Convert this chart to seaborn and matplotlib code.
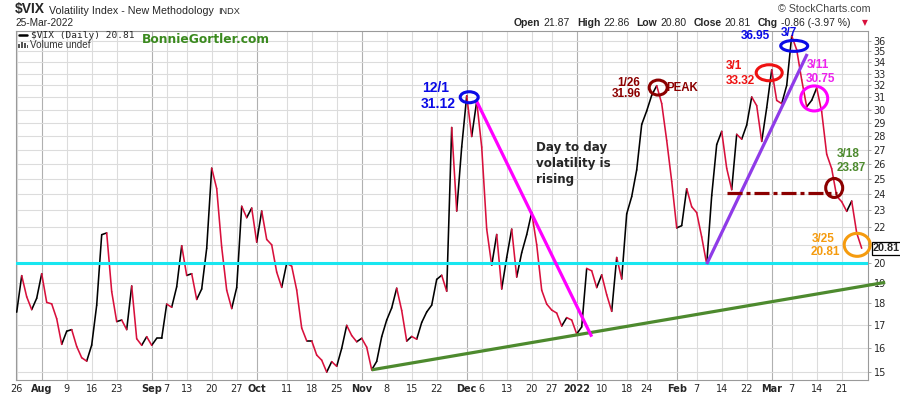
import numpy as np
import pandas as pd
import seaborn as sns
import matplotlib.pyplot as plt
from matplotlib import transforms
from matplotlib.lines import Line2D
from matplotlib.patches import Ellipse, Rectangle
from matplotlib.ticker import NullLocator

# VIX daily closes, 26 Jul 2021 -> 25 Mar 2022, one list per month
close_jul = [17.58, 19.36, 18.31, 17.70, 18.24]
close_aug = [19.46, 18.04, 17.97, 17.28, 16.15, 16.72, 16.79, 16.06, 15.59, 15.45, 16.12,
             17.91, 21.57, 21.67, 18.56, 17.15, 17.22, 16.79, 18.84, 16.39, 16.11, 16.48]
close_sep = [16.11, 16.41, 16.41, 17.96, 17.81, 18.80, 20.95, 19.37, 19.46, 18.18, 18.69,
             20.81, 25.71, 24.36, 20.87, 18.63, 17.75, 18.76, 23.25, 22.56, 23.14]
close_oct = [21.15, 22.96, 21.30, 21.00, 19.54, 18.77, 20.00, 19.85, 18.64, 16.86, 16.30,
             16.30, 15.70, 15.49, 15.01, 15.43, 15.24, 15.98, 16.98, 16.53, 16.26]
close_nov = [16.41, 16.03, 15.10, 15.44, 16.48, 17.22, 17.78, 18.73, 17.66, 16.29, 16.49,
             16.37, 17.11, 17.59, 17.91, 19.17, 19.38, 18.58, 28.62, 22.96, 27.19]
close_dec = [31.12, 27.95, 30.67, 27.18, 21.89, 19.90, 21.58, 18.69, 20.31, 21.89, 19.29,
             20.57, 21.57, 22.87, 21.01, 18.63, 17.96, 17.68, 17.54, 16.95, 17.33, 17.22]
close_jan = [16.60, 16.91, 19.73, 19.61, 18.76, 19.40, 18.41, 17.62, 20.31, 19.19, 22.79,
             23.85, 25.59, 28.85, 29.90, 31.16, 31.96, 30.49, 27.66, 24.83]
close_feb = [21.96, 22.09, 24.35, 23.22, 22.86, 21.44, 19.96, 23.91, 27.36, 28.33, 25.70,
             24.29, 28.11, 27.75, 28.81, 31.02, 30.32, 27.59, 30.15]
close_mar = [33.32, 30.74, 30.48, 31.98, 36.45, 35.13, 32.45, 30.23, 30.75, 31.77, 29.83,
             26.67, 25.67, 23.87, 23.53, 22.94, 23.57, 21.67, 20.81]

holidays = ['2021-09-06', '2021-11-25', '2021-12-24', '2022-01-17', '2022-02-21']

tick_dates = ['2021-07-26', '2021-08-02', '2021-08-09', '2021-08-16', '2021-08-23',
              '2021-09-01', '2021-09-07', '2021-09-13', '2021-09-20', '2021-09-27',
              '2021-10-01', '2021-10-11', '2021-10-18', '2021-10-25', '2021-11-01',
              '2021-11-08', '2021-11-15', '2021-11-22', '2021-12-01', '2021-12-06',
              '2021-12-13', '2021-12-20', '2021-12-27', '2022-01-03', '2022-01-10',
              '2022-01-18', '2022-01-24', '2022-02-01', '2022-02-07', '2022-02-14',
              '2022-02-22', '2022-03-01', '2022-03-07', '2022-03-14', '2022-03-21']
tick_labels = ['26', 'Aug', '9', '16', '23', 'Sep', '7', '13', '20', '27', 'Oct', '11', '18',
               '25', 'Nov', '8', '15', '22', 'Dec', '6', '13', '20', '27', '2022', '10', '18',
               '24', 'Feb', '7', '14', '22', 'Mar', '7', '14', '21']
month_labels = ['Aug', 'Sep', 'Oct', 'Nov', 'Dec', '2022', 'Feb', 'Mar']
y_ticks = list(range(15, 37))

vix = close_jul + close_aug + close_sep + close_oct + close_nov + close_dec + close_jan + close_feb + close_mar
dates = pd.bdate_range('2021-07-26', '2022-03-25')
dates = dates[~dates.isin(pd.to_datetime(holidays))]
df = pd.DataFrame({'date': dates, 'close': vix})
df['i'] = np.arange(len(df))

# one two-point segment per day, tagged up / down for the colouring
seg = pd.concat([
    pd.DataFrame({'i': df.i[:-1].values, 'close': df.close[:-1].values, 'seg': df.i[1:].values}),
    pd.DataFrame({'i': df.i[1:].values, 'close': df.close[1:].values, 'seg': df.i[1:].values}),
]).sort_values(['seg', 'i'])
chg = df.close.diff()
seg['dir'] = np.where(chg[seg['seg']].values < 0, 'down', 'up')

up_col = 'black'
down_col = '#d8103c'

sns.set_style('white')
plt.rcParams['font.family'] = ['DejaVu Sans']

W, H = 900, 396
fig, ax = plt.subplots(figsize=(9, 3.96), dpi=100)
ax.set_position([16 / W, 1 - 380 / H, (868 - 16) / W, (380 - 31) / H])


def fxy(x, y):
    # reference pixel -> figure fraction
    return x / W, 1 - y / H


sns.lineplot(data=seg, x='i', y='close', units='seg', hue='dir', estimator=None, sort=False,
             palette={'up': up_col, 'down': down_col}, lw=1.15, legend=False, ax=ax,
             zorder=3, solid_capstyle='round')

ax.set_yscale('log')
ax.set_ylim(14.70, 36.92)
ax.set_xlim(-0.14, 170.26)

# axes styling
ax.yaxis.tick_right()
ax.set_yticks(y_ticks)
ax.set_yticklabels([str(v) for v in y_ticks])
ax.yaxis.set_minor_locator(NullLocator())
for lab in ax.get_yticklabels():
    if lab.get_text() == '21':
        lab.set_visible(False)  # hidden under the last-value tag
tick_pos = [dates.get_loc(pd.Timestamp(d)) for d in tick_dates]
ax.set_xticks(tick_pos)
ax.set_xticklabels(tick_labels)
ax.set_xticks(df['i'], minor=True)
for lab in ax.get_xticklabels():
    if lab.get_text() in month_labels:
        lab.set_fontweight('bold')
ax.tick_params(axis='x', which='major', length=0, pad=3, labelsize=7)
ax.tick_params(axis='x', which='minor', length=2, width=0.6, color='#999999', direction='out')
ax.tick_params(axis='y', length=2, width=0.6, color='#999999', pad=2, labelsize=7)
ax.set_xlabel('')
ax.set_ylabel('')
ax.grid(axis='y', which='major', color='#dcdcdc', lw=0.8)
for p, lab in zip(tick_pos, tick_labels):
    c = '#b0b0b0' if lab in month_labels else '#dcdcdc'
    ax.axvline(p, color=c, lw=0.8, zorder=0.5)
for s in ax.spines.values():
    s.set_color('#9a9a9a')
    s.set_linewidth(0.8)

# trend lines
ax.axhline(20.0, color='#18e6f0', lw=2.2, zorder=4)
ax.plot([71, 173.7], [df.close[71], 19.02], color='#4d8a2e', lw=2.3, zorder=4, clip_on=False, solid_capstyle='butt')
ax.plot([92, 115], [df.close[92], 16.48], color='#ff00ff', lw=2.3, zorder=4, solid_capstyle='butt')
ax.plot([138, 158.1], [df.close[138], 34.75], color='#8f3be8', lw=2.3, zorder=4, solid_capstyle='butt')
ax.plot([142, 164], [24.06, 24.06], color='#8b0000', lw=2.3, zorder=4, dashes=(4.7, 1.25, 1.25, 1.25))

# rings (center in data coords, size in pixels)
rings = [
    (90.5, 31.0, 18, 11, '#0a0ae6'),
    (155.5, 35.5, 27, 11, '#0a0ae6'),
    (150.5, 33.07, 26, 16, '#ee1111'),
    (128.3, 31.8, 18, 15, '#8b0000'),
    (159.5, 30.9, 27, 25, '#ff00ff'),
    (163.5, 24.4, 17, 19, '#8b0000'),
    (168.1, 21.0, 26, 23, '#f59b0e'),
]
for xi, yv, w, h, c in rings:
    off = transforms.ScaledTranslation(xi, yv, ax.transData)
    ax.add_patch(Ellipse((0, 0), w / 100, h / 100, transform=fig.dpi_scale_trans + off,
                         fill=False, ec=c, lw=2.2, zorder=5, clip_on=False))

# annotation texts (x, baseline y in reference pixels)
notes = [
    ('12/1', 421.7, 91.7, '#0a0ae6', 10, 'left'),
    ('31.12', 420.7, 107.5, '#0a0ae6', 10, 'left'),
    ('1/26', 639.5, 86.3, '#8b0000', 8.5, 'right'),
    ('31.96', 641.5, 97.0, '#8b0000', 8.5, 'right'),
    ('PEAK', 666, 90.7, '#8b0000', 8.3, 'left'),
    ('3/1', 726, 69.3, '#ee1111', 8.5, 'left'),
    ('33.32', 726, 83.5, '#ee1111', 8.5, 'left'),
    ('36.95', 740.7, 39.3, '#0a0ae6', 8.5, 'left'),
    ('3/7', 781, 36.0, '#0a0ae6', 8.5, 'left'),
    ('3/11', 806.7, 67.7, '#ee22ee', 8.5, 'left'),
    ('30.75', 806.2, 82.3, '#ee22ee', 8.5, 'left'),
    ('3/18', 836.7, 157.3, '#4d8a2e', 8.5, 'left'),
    ('23.87', 836.7, 170.7, '#4d8a2e', 8.5, 'left'),
    ('3/25', 811.7, 242.3, '#f59b0e', 8.5, 'left'),
    ('20.81', 810.7, 255.0, '#f59b0e', 8.5, 'left'),
]
for txt, x, y, c, fs, ha in notes:
    fig.text(*fxy(x, y), txt, color=c, fontsize=fs, fontweight='bold', ha=ha, va='baseline',
             family='Liberation Sans', zorder=6)

for k, line in enumerate(['Day to day', 'volatility is', 'rising']):
    fig.text(*fxy(536, 150.7 + 16 * k), line, fontsize=8.6, fontweight='bold', va='baseline')

# last value tag on the right axis
ax.annotate('20.81', xy=(1, df.close.iloc[-1]), xycoords=('axes fraction', 'data'),
            xytext=(3.5, 0), textcoords='offset points', va='center', ha='left',
            fontsize=7.8, fontweight='bold', family='Liberation Sans', zorder=10,
            bbox=dict(boxstyle='square,pad=0.12', fc='white', ec='black', lw=0.9),
            annotation_clip=False)

# legend block inside the plot
fig.add_artist(Line2D([19.3 / W, 26.7 / W], [1 - 34.7 / H] * 2, color='black', lw=1.8))
fig.text(*fxy(31, 37.6), '$VIX (Daily) 20.81', family='DejaVu Sans Mono', fontsize=6.8,
         va='baseline', parse_math=False)
for bx, bh in zip([17.5, 20.5, 23.5, 26.5], [4, 6, 5, 3]):
    fig.add_artist(Rectangle((bx / W, 1 - 48.3 / H), 2 / W, bh / H, color='#555555', lw=0))
fig.text(*fxy(30, 48), 'Volume undef', family='Liberation Sans', fontsize=7.1,
         color='#333333', va='baseline')
fig.text(*fxy(141.7, 42.7), 'BonnieGortler.com', color='#3b8a1f', fontsize=8.8,
         fontweight='bold', va='baseline')

# header
fig.text(*fxy(15, 13.5), '$VIX', family='Liberation Sans', fontweight='bold', fontsize=10,
         va='baseline', parse_math=False)
fig.text(*fxy(49, 13.5), 'Volatility Index - New Methodology', family='Liberation Sans',
         fontsize=7.7, va='baseline')
fig.text(*fxy(218, 13.5), 'INDX', family='Liberation Sans', fontsize=6.6, va='baseline')
fig.text(*fxy(15, 26), '25-Mar-2022', family='Liberation Sans', fontsize=7.3, va='baseline')
fig.text(*fxy(870, 12.5), '\u00a9 StockCharts.com', family='Liberation Sans', fontsize=7.7,
         color='#444444', ha='right', va='baseline')

renderer = fig.canvas.get_renderer()
pieces = [('Open', True), ('21.87', False), ('High', True), ('22.86', False),
          ('Low', True), ('20.80', False), ('Close', True), ('20.81', False),
          ('Chg', True), ('-0.86 (-3.97 %)', False)]
x = 514
for k, (word, bold) in enumerate(pieces):
    t = fig.text(*fxy(x, 26), word, family='Liberation Sans', fontsize=7.5,
                 fontweight='bold' if bold else 'normal', va='baseline')
    x += t.get_window_extent(renderer).width + (3 if bold else 7)
fig.text(*fxy(865, 25.5), '\u25bc', color=down_col, fontsize=5.5, ha='center', va='baseline')

fig.savefig('out.png', dpi=100)
